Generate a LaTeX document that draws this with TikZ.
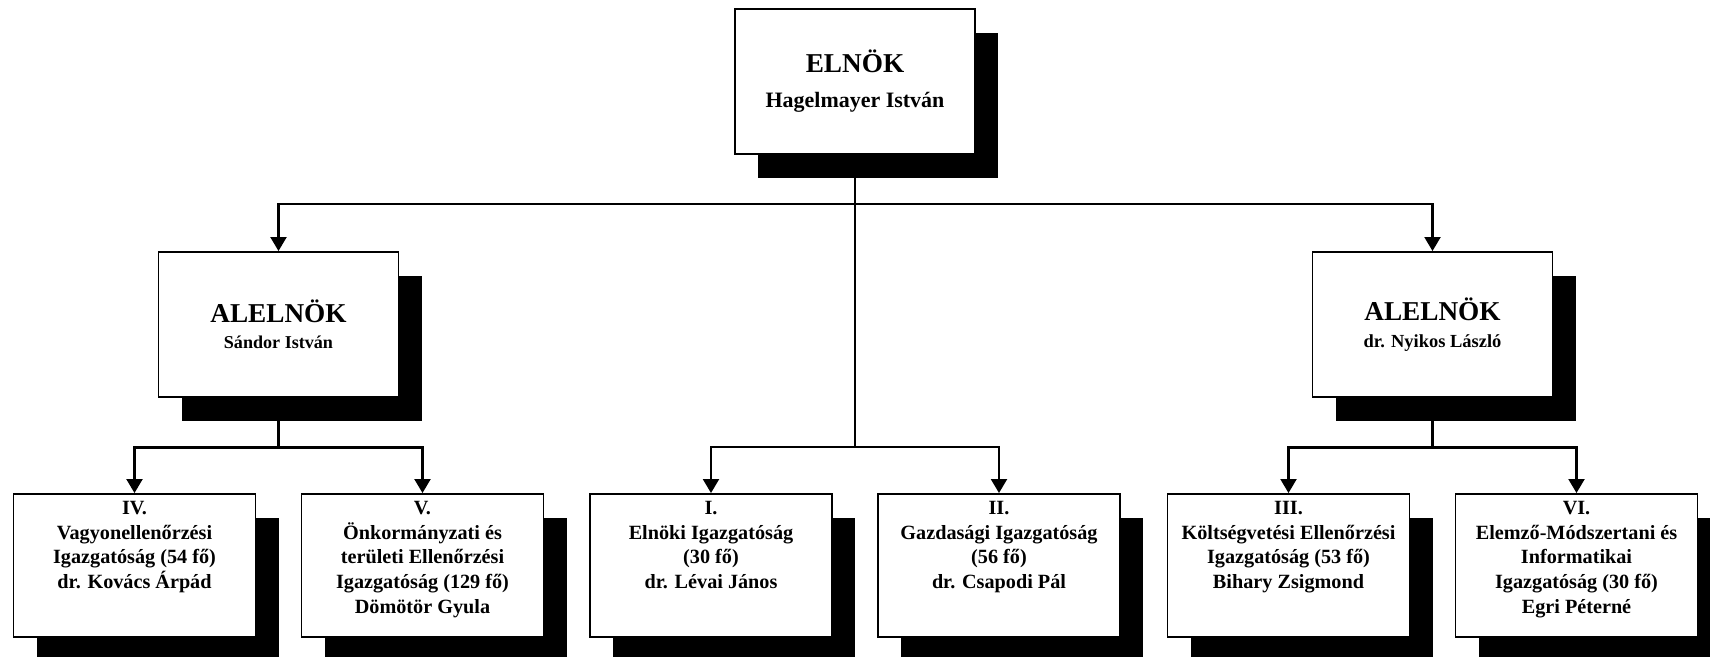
\documentclass[tikz,border=0pt]{standalone}
\usepackage{fontspec}
\setmainfont{Liberation Serif}
\usetikzlibrary{positioning}
\usetikzlibrary{shadows}
\usetikzlibrary{arrows.meta}

\tikzset{
  box/.style={draw, line width=1.1pt, fill=white, inner sep=0pt, align=center, font=\bfseries,
    drop shadow={fill=black, opacity=1, shadow xshift=0.46cm, shadow yshift=-0.48cm}},
  head/.style={box, minimum width=4.8cm, minimum height=2.9cm},
  dept/.style={box, minimum width=4.84cm, minimum height=2.86cm},
  link/.style={line width=1.2pt},
  tip/.style={link, -{Triangle[length=0.28cm,width=0.32cm]}}
}
\newcommand{\headtext}[4]{{\fontsize{15.5}{18}\selectfont #1}\\[#4]{\fontsize{#3}{13}\selectfont #2}}
\newcommand{\depttext}[1]{\parbox[t][2.56cm][t]{4.7cm}{\centering\fontsize{11.5}{14}\selectfont #1}}

\begin{document}
\begin{tikzpicture}[node distance=3cm,on grid]
  \useasboundingbox (0,0) rectangle (34.2,-13.14);

  \node[head] (elnok) at (17.1,-1.63) {\headtext{ELNÖK}{Hagelmayer István}{12.5}{8pt}};
  \node[head] (alelnok1) [below left=4.86cm and 11.53cm of elnok] {\headtext{ALELNÖK}{Sándor István}{10.3}{3pt}};
  \node[head] (alelnok2) [below right=4.86cm and 11.55cm of elnok] {\headtext{ALELNÖK}{dr. Nyikos László}{10.5}{3pt}};

  \node[dept] (ig4) [below left=4.82cm and 2.88cm of alelnok1]
    {\depttext{IV.\\Vagyonellenőrzési\\Igazgatóság (54 fő)\\dr. Kovács Árpád}};
  \node[dept] (ig5) [below right=4.82cm and 2.88cm of alelnok1]
    {\depttext{V.\\Önkormányzati és\\területi Ellenőrzési\\Igazgatóság (129 fő)\\Dömötör Gyula}};
  \node[dept] (ig1) [below left=9.68cm and 2.88cm of elnok]
    {\depttext{I.\\Elnöki Igazgatóság\\(30 fő)\\dr. Lévai János}};
  \node[dept] (ig2) [below right=9.68cm and 2.88cm of elnok]
    {\depttext{II.\\Gazdasági Igazgatóság\\(56 fő)\\dr. Csapodi Pál}};
  \node[dept] (ig3) [below left=4.82cm and 2.88cm of alelnok2]
    {\depttext{III.\\Költségvetési Ellenőrzési\\Igazgatóság (53 fő)\\Bihary Zsigmond}};
  \node[dept] (ig6) [below right=4.82cm and 2.88cm of alelnok2]
    {\depttext{VI.\\Elemző-Módszertani és\\Informatikai\\Igazgatóság (30 fő)\\Egri Péterné}};

  % connectors
  \draw[tip] (elnok.south) -- ++(0,-0.98) -| (alelnok1.north);
  \draw[tip] (elnok.south) -- ++(0,-0.98) -| (alelnok2.north);
  \draw[tip] (elnok.south) -- ++(0,-5.84) -| (ig1.north);
  \draw[tip] (elnok.south) -- ++(0,-5.84) -| (ig2.north);
  \draw[tip] (alelnok1.south) -- ++(0,-0.99) -| (ig4.north);
  \draw[tip] (alelnok1.south) -- ++(0,-0.99) -| (ig5.north);
  \draw[tip] (alelnok2.south) -- ++(0,-0.99) -| (ig3.north);
  \draw[tip] (alelnok2.south) -- ++(0,-0.99) -| (ig6.north);
\end{tikzpicture}
\end{document}
